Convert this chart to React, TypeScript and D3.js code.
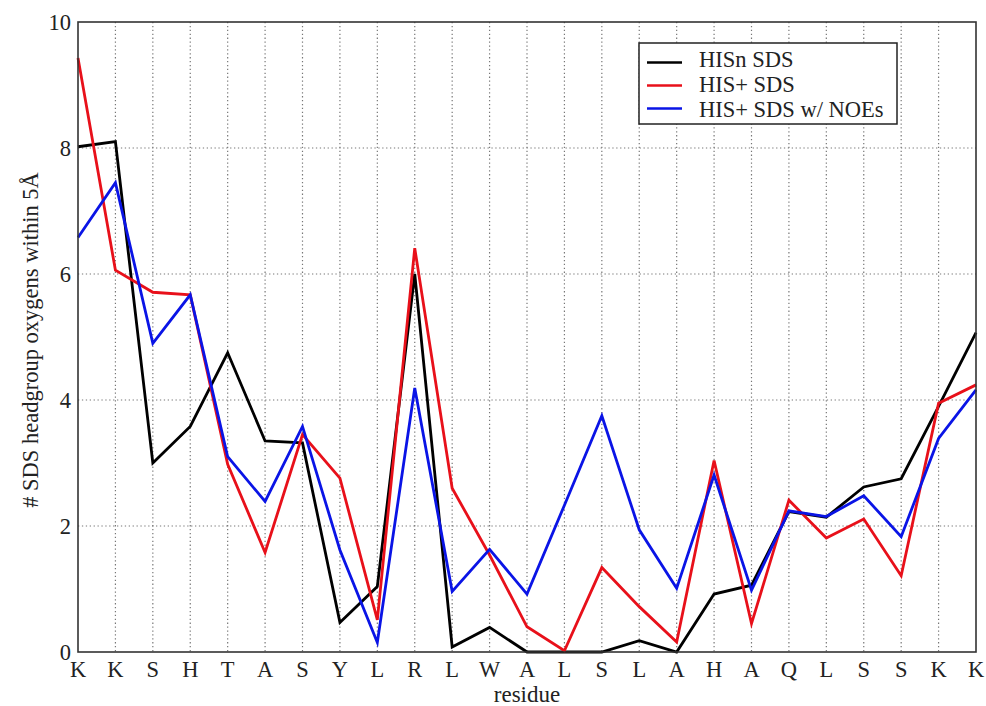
import React from "react";
import * as d3 from "d3";

const residues = ["K","K","S","H","T","A","S","Y","L","R","L","W","A","L","S","L","A","H","A","Q","L","S","S","K","K"];
const hisNeutral = [8.02,8.1,3.0,3.58,4.75,3.35,3.32,0.47,1.04,6.0,0.08,0.39,0,0,0,0.18,0,0.92,1.06,2.23,2.14,2.62,2.75,3.9,5.07];
const hisPlus = [9.43,6.06,5.71,5.67,2.98,1.58,3.45,2.76,0.51,6.41,2.6,1.54,0.4,0.02,1.34,0.72,0.16,3.04,0.45,2.41,1.81,2.11,1.21,3.95,4.24];
const hisPlusNoe = [6.58,7.45,4.9,5.67,3.1,2.39,3.58,1.62,0.15,4.19,0.96,1.63,0.92,2.33,3.75,1.94,1.01,2.81,0.98,2.24,2.15,2.48,1.83,3.39,4.16];
const yTicks = [0,2,4,6,8,10];
const seriesNames = ["HISn SDS","HIS+ SDS","HIS+ SDS w/ NOEs"];
const seriesColors = ["#000000","#e8101a","#0a14e6"];

const W = 986, H = 706;
const left = 78, right = 976, top = 22, bottom = 652;
const font = "'Liberation Serif', 'Times New Roman', serif";

export default function App() {
  const idx = residues.map((_, i) => i);
  const x = d3.scaleLinear().domain([0, residues.length - 1]).range([left, right]);
  const y = d3.scaleLinear().domain([0, 10]).range([bottom, top]);
  const line = d3.line<number>().x((_, i) => x(i)).y((v) => y(v));
  const series = [hisNeutral, hisPlus, hisPlusNoe];

  return (
    <svg width={W} height={H} style={{ position: "absolute", left: 0, top: 0, background: "#fff" }}>
      <rect x={0} y={0} width={W} height={H} fill="#fff" />
      {/* grid */}
      {idx.slice(1, -1).map((i) => (
        <line key={"gx" + i} x1={x(i)} x2={x(i)} y1={top} y2={bottom} stroke="#777" strokeWidth={1.2} strokeDasharray="1.3,2.6" />
      ))}
      {yTicks.slice(1, -1).map((t) => (
        <line key={"gy" + t} x1={left} x2={right} y1={y(t)} y2={y(t)} stroke="#777" strokeWidth={1.2} strokeDasharray="1.3,2.6" />
      ))}
      {/* series */}
      {series.map((s, k) => (
        <path key={"s" + k} d={line(s) || ""} fill="none" stroke={seriesColors[k]} strokeWidth={2.8} strokeLinejoin="miter" />
      ))}
      {/* frame */}
      <rect x={left} y={top} width={right - left} height={bottom - top} fill="none" stroke="#333" strokeWidth={1.6} />
      {/* y tick labels */}
      {yTicks.map((t) => (
        <text key={"ty" + t} x={left - 7} y={y(t) + 8} textAnchor="end" fontFamily={font} fontSize={22.5} fill="#222">{t}</text>
      ))}
      {/* x tick labels */}
      {residues.map((r, i) => (
        <text key={"tx" + i} x={x(i)} y={bottom + 25} textAnchor="middle" fontFamily={font} fontSize={22.5} fill="#222">{r}</text>
      ))}
      <text x={527} y={702} textAnchor="middle" fontFamily={font} fontSize={23} fill="#222">residue</text>
      <text transform={`translate(38,340) rotate(-90)`} textAnchor="middle" fontFamily={font} fontSize={22.5} fill="#222">
        # SDS headgroup oxygens within 5Å
      </text>
      {/* legend */}
      <rect x={639} y={43} width={258} height={81} fill="#fff" stroke="#222" strokeWidth={1.5} />
      {seriesNames.map((n, k) => (
        <g key={"lg" + k}>
          <line x1={647} x2={682} y1={62.5 + k * 23} y2={62.5 + k * 23} stroke={seriesColors[k]} strokeWidth={2.4} />
          <text x={699} y={67 + k * 24.8} fontFamily={font} fontSize={22.5} fill="#222">{n}</text>
        </g>
      ))}
    </svg>
  );
}
